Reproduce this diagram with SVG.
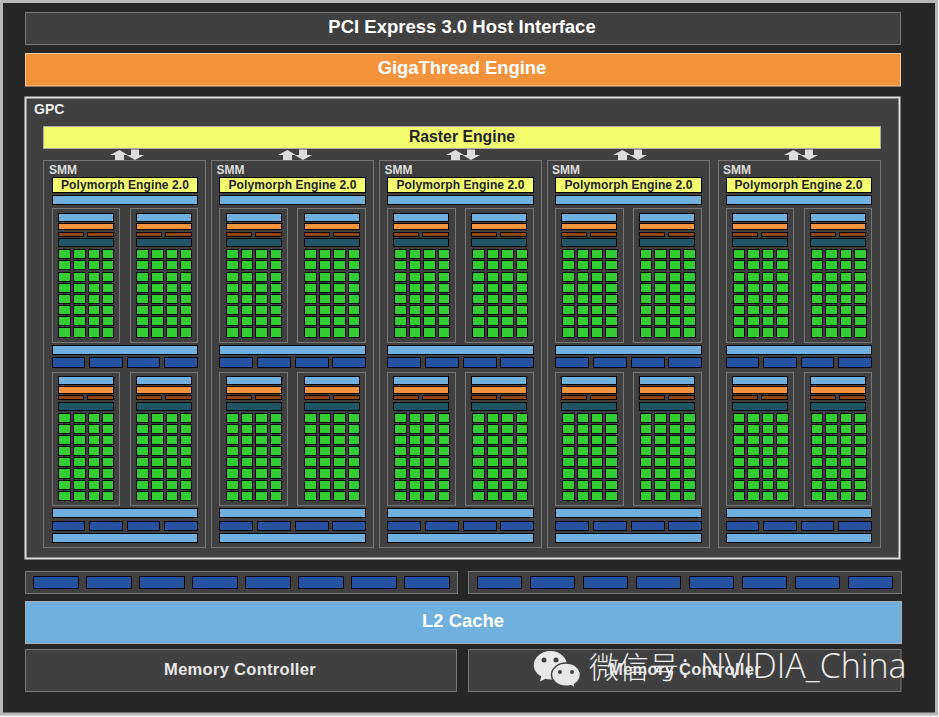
<svg xmlns="http://www.w3.org/2000/svg" xmlns:xlink="http://www.w3.org/1999/xlink" width="939" height="717" viewBox="0 0 939 717">
<style>
text{font-family:"Liberation Sans",Arial,sans-serif;font-weight:700}
.box{fill:#404040;stroke:#777;stroke-width:1}
.bl{fill:#6fb0de;stroke:#000;stroke-width:1}
.or{fill:#f5923c;stroke:#000;stroke-width:1}
.br{fill:#8f4610;stroke:#000;stroke-width:1}
.te{fill:#1f5565;stroke:#000;stroke-width:1}
.gr{fill:#33cc33;stroke:#000;stroke-width:1}
.db{fill:#2553a2;stroke:#000;stroke-width:1}
.ye{fill:#f4ff70;stroke:#000;stroke-width:1}
.smm{font-size:12px;fill:#ddd}
.pe{font-size:12px;fill:#222;text-anchor:middle;letter-spacing:.1px}
.big{fill:#fff;text-anchor:middle}
.mc{font-size:16.500px;fill:#e8e8e8;text-anchor:middle;letter-spacing:.3px}
.arrow{fill:#ddd}
</style>
<defs>
<g id="colT12"><rect class="gr" x=".5" y="249.5" width="12" height="9"/><rect class="gr" x=".5" y="260.5" width="12" height="9"/><rect class="gr" x=".5" y="272.5" width="12" height="9"/><rect class="gr" x=".5" y="283.5" width="12" height="9"/><rect class="gr" x=".5" y="294.5" width="12" height="9"/><rect class="gr" x=".5" y="305.5" width="12" height="9"/><rect class="gr" x=".5" y="316.5" width="12" height="9"/><rect class="gr" x=".5" y="327.5" width="12" height="10"/></g>
<g id="colT11"><rect class="gr" x=".5" y="249.5" width="11" height="9"/><rect class="gr" x=".5" y="260.5" width="11" height="9"/><rect class="gr" x=".5" y="272.5" width="11" height="9"/><rect class="gr" x=".5" y="283.5" width="11" height="9"/><rect class="gr" x=".5" y="294.5" width="11" height="9"/><rect class="gr" x=".5" y="305.5" width="11" height="9"/><rect class="gr" x=".5" y="316.5" width="11" height="9"/><rect class="gr" x=".5" y="327.5" width="11" height="10"/></g>
<g id="colL12"><rect class="gr" x=".5" y="413.5" width="12" height="9"/><rect class="gr" x=".5" y="424.5" width="12" height="9"/><rect class="gr" x=".5" y="435.5" width="12" height="9"/><rect class="gr" x=".5" y="446.5" width="12" height="9"/><rect class="gr" x=".5" y="457.5" width="12" height="9"/><rect class="gr" x=".5" y="468.5" width="12" height="10"/><rect class="gr" x=".5" y="480.5" width="12" height="9"/><rect class="gr" x=".5" y="491.5" width="12" height="9"/></g>
<g id="colL11"><rect class="gr" x=".5" y="413.5" width="11" height="9"/><rect class="gr" x=".5" y="424.5" width="11" height="9"/><rect class="gr" x=".5" y="435.5" width="11" height="9"/><rect class="gr" x=".5" y="446.5" width="11" height="9"/><rect class="gr" x=".5" y="457.5" width="11" height="9"/><rect class="gr" x=".5" y="468.5" width="11" height="10"/><rect class="gr" x=".5" y="480.5" width="11" height="9"/><rect class="gr" x=".5" y="491.5" width="11" height="9"/></g>
<g id="AT"><use href="#colT12"/><use href="#colT12" x="15"/><use href="#colT11" x="30"/><use href="#colT11" x="44"/></g>
<g id="BT"><use href="#colT12"/><use href="#colT11" x="15"/><use href="#colT12" x="29"/><use href="#colT11" x="44"/></g>
<g id="CT"><use href="#colT11"/><use href="#colT12" x="14"/><use href="#colT11" x="29"/><use href="#colT12" x="43"/></g>
<g id="DT"><use href="#colT12"/><use href="#colT11" x="15"/><use href="#colT11" x="29"/><use href="#colT12" x="43"/></g>
<g id="AL"><use href="#colL12"/><use href="#colL12" x="15"/><use href="#colL11" x="30"/><use href="#colL11" x="44"/></g>
<g id="BL"><use href="#colL12"/><use href="#colL11" x="15"/><use href="#colL12" x="29"/><use href="#colL11" x="44"/></g>
<g id="CL"><use href="#colL11"/><use href="#colL12" x="14"/><use href="#colL11" x="29"/><use href="#colL12" x="43"/></g>
<g id="DL"><use href="#colL12"/><use href="#colL11" x="15"/><use href="#colL11" x="29"/><use href="#colL12" x="43"/></g>
<g id="barsT"><rect class="bl" y="213.5" width="55" height="8"/><rect class="or" y="223.5" width="55" height="6"/><rect class="br" y="232.5" width="25" height="4"/><rect class="br" x="29" y="232.5" width="26" height="4"/><rect class="te" y="238.5" width="55" height="8"/></g>
<g id="barsL"><rect class="bl" y="376.5" width="55" height="8"/><rect class="or" y="386.5" width="55" height="7"/><rect class="br" y="395.5" width="25" height="4"/><rect class="br" x="29" y="395.5" width="26" height="4"/><rect class="te" y="402.5" width="55" height="8"/></g>
<g id="dkU1"><rect class="db" y="357.5" width="32" height="10"/><rect class="db" x="37" y="357.5" width="33" height="10"/><rect class="db" x="75" y="357.5" width="32" height="10"/><rect class="db" x="112" y="357.5" width="33" height="10"/></g>
<g id="dkL1"><rect class="db" y="521.5" width="32" height="9"/><rect class="db" x="37" y="521.5" width="33" height="9"/><rect class="db" x="75" y="521.5" width="32" height="9"/><rect class="db" x="112" y="521.5" width="33" height="9"/></g>
<g id="dkU"><rect class="db" y="357.5" width="33" height="10"/><rect class="db" x="38" y="357.5" width="33" height="10"/><rect class="db" x="76" y="357.5" width="33" height="10"/><rect class="db" x="113" y="357.5" width="33" height="10"/></g>
<g id="dkL"><rect class="db" y="521.5" width="33" height="9"/><rect class="db" x="38" y="521.5" width="33" height="9"/><rect class="db" x="76" y="521.5" width="33" height="9"/><rect class="db" x="113" y="521.5" width="33" height="9"/></g>
<g id="arrows"><path class="arrow" d="M110 155 119.5 150 128 155H124V160H115V155Z"/><path class="arrow" d="M131 149.500H139V155H144L135 160 126.500 155H131Z"/></g>
</defs>
<rect x="0" y="0" width="939" height="717" fill="#f2f2f2"/>
<rect x="1.500" y="1.500" width="935" height="712.500" fill="#262626" stroke="#b8b8b8" stroke-width="3"/>

<g id="pcie"><rect class="box" x="25.500" y="12.500" width="875" height="32"/><text class="big" x="462" y="33" font-size="18.500">PCI Express 3.0 Host Interface</text></g>
<g id="gigathread"><rect x="25.500" y="53.500" width="875" height="32.500" fill="#f5923c" stroke="#f6c7a0"/><text class="big" x="462" y="74" font-size="18.400">GigaThread Engine</text></g>
<g id="gpc"><rect x="25.500" y="97.500" width="874" height="461" fill="#404040" stroke="#ddd" stroke-width="2"/><text x="34" y="114" font-size="14" fill="#eee">GPC</text></g>
<g id="raster"><rect x="43.500" y="126.500" width="837" height="22" fill="#f4ff70" stroke="#aaa"/><text x="462" y="142" font-size="15.800" fill="#222" text-anchor="middle">Raster Engine</text></g>

<g id="connectors"><use href="#arrows"/><use href="#arrows" x="168"/><use href="#arrows" x="336"/><use href="#arrows" x="503"/><use href="#arrows" x="674"/></g>

<g id="smm1">
<rect class="box" x="43.500" y="160.500" width="162" height="387"/><text class="smm" x="49" y="174">SMM</text>
<rect class="ye" x="52.500" y="177.500" width="145" height="15"/><text class="pe" x="125" y="189">Polymorph Engine 2.0</text>
<rect class="bl" x="52.500" y="195.500" width="145" height="9"/>
<rect class="box" x="52.500" y="208.500" width="67" height="134"/><use href="#barsT" x="58.500"/><use href="#AT" x="58"/>
<rect class="box" x="130.500" y="208.500" width="67" height="134"/><use href="#barsT" x="136.500"/><use href="#AT" x="136"/>
<rect class="bl" x="52.500" y="345.500" width="145" height="9"/><use href="#dkU1" x="52.500"/>
<rect class="box" x="52.500" y="372.500" width="67" height="133"/><use href="#barsL" x="58.500"/><use href="#AL" x="58"/>
<rect class="box" x="130.500" y="372.500" width="67" height="133"/><use href="#barsL" x="136.500"/><use href="#AL" x="136"/>
<rect class="bl" x="52.500" y="508.500" width="145" height="9"/><use href="#dkL1" x="52.500"/><rect class="bl" x="52.500" y="533.500" width="145" height="9"/>
</g>
<g id="smm2">
<rect class="box" x="211.500" y="160.500" width="162" height="387"/><text class="smm" x="216.500" y="174">SMM</text>
<rect class="ye" x="219.500" y="177.500" width="146" height="15"/><text class="pe" x="292.500" y="189">Polymorph Engine 2.0</text>
<rect class="bl" x="219.500" y="195.500" width="146" height="9"/>
<rect class="box" x="219.500" y="208.500" width="68" height="134"/><use href="#barsT" x="226.500"/><use href="#BT" x="226"/>
<rect class="box" x="297.500" y="208.500" width="68" height="134"/><use href="#barsT" x="304.500"/><use href="#BT" x="304"/>
<rect class="bl" x="219.500" y="345.500" width="146" height="9"/><use href="#dkU" x="219.500"/>
<rect class="box" x="219.500" y="372.500" width="68" height="133"/><use href="#barsL" x="226.500"/><use href="#BL" x="226"/>
<rect class="box" x="297.500" y="372.500" width="68" height="133"/><use href="#barsL" x="304.500"/><use href="#BL" x="304"/>
<rect class="bl" x="219.500" y="508.500" width="146" height="9"/><use href="#dkL" x="219.500"/><rect class="bl" x="219.500" y="533.500" width="146" height="9"/>
</g>
<g id="smm3">
<rect class="box" x="379.500" y="160.500" width="162" height="387"/><text class="smm" x="384.500" y="174">SMM</text>
<rect class="ye" x="387.500" y="177.500" width="146" height="15"/><text class="pe" x="460.500" y="189">Polymorph Engine 2.0</text>
<rect class="bl" x="387.500" y="195.500" width="146" height="9"/>
<rect class="box" x="387.500" y="208.500" width="68" height="134"/><use href="#barsT" x="393.500"/><use href="#BT" x="394"/>
<rect class="box" x="465.500" y="208.500" width="68" height="134"/><use href="#barsT" x="471.500"/><use href="#BT" x="472"/>
<rect class="bl" x="387.500" y="345.500" width="146" height="9"/><use href="#dkU" x="387.500"/>
<rect class="box" x="387.500" y="372.500" width="68" height="133"/><use href="#barsL" x="393.500"/><use href="#BL" x="394"/>
<rect class="box" x="465.500" y="372.500" width="68" height="133"/><use href="#barsL" x="471.500"/><use href="#BL" x="472"/>
<rect class="bl" x="387.500" y="508.500" width="146" height="9"/><use href="#dkL" x="387.500"/><rect class="bl" x="387.500" y="533.500" width="146" height="9"/>
</g>
<g id="smm4">
<rect class="box" x="547.500" y="160.500" width="162" height="387"/><text class="smm" x="552" y="174">SMM</text>
<rect class="ye" x="555.500" y="177.500" width="146" height="15"/><text class="pe" x="628.500" y="189">Polymorph Engine 2.0</text>
<rect class="bl" x="555.500" y="195.500" width="146" height="9"/>
<rect class="box" x="555.500" y="208.500" width="68" height="134"/><use href="#barsT" x="561.500"/><use href="#DT" x="562"/>
<rect class="box" x="633.500" y="208.500" width="68" height="134"/><use href="#barsT" x="639.500"/><use href="#CT" x="640"/>
<rect class="bl" x="555.500" y="345.500" width="146" height="9"/><use href="#dkU" x="555.500"/>
<rect class="box" x="555.500" y="372.500" width="68" height="133"/><use href="#barsL" x="561.500"/><use href="#DL" x="562"/>
<rect class="box" x="633.500" y="372.500" width="68" height="133"/><use href="#barsL" x="639.500"/><use href="#CL" x="640"/>
<rect class="bl" x="555.500" y="508.500" width="146" height="9"/><use href="#dkL" x="555.500"/><rect class="bl" x="555.500" y="533.500" width="146" height="9"/>
</g>
<g id="smm5">
<rect class="box" x="718.500" y="160.500" width="162" height="387"/><text class="smm" x="723" y="174">SMM</text>
<rect class="ye" x="726.500" y="177.500" width="145" height="15"/><text class="pe" x="798.500" y="189">Polymorph Engine 2.0</text>
<rect class="bl" x="726.500" y="195.500" width="145" height="9"/>
<rect class="box" x="726.500" y="208.500" width="67" height="134"/><use href="#barsT" x="732.500"/><use href="#CT" x="733"/>
<rect class="box" x="804.500" y="208.500" width="67" height="134"/><use href="#barsT" x="810.500"/><use href="#CT" x="811"/>
<rect class="bl" x="726.500" y="345.500" width="145" height="9"/><use href="#dkU1" x="726.500"/>
<rect class="box" x="726.500" y="372.500" width="67" height="133"/><use href="#barsL" x="732.500"/><use href="#CL" x="733"/>
<rect class="box" x="804.500" y="372.500" width="67" height="133"/><use href="#barsL" x="810.500"/><use href="#CL" x="811"/>
<rect class="bl" x="726.500" y="508.500" width="145" height="9"/><use href="#dkL1" x="726.500"/><rect class="bl" x="726.500" y="533.500" width="145" height="9"/>
</g>

<g id="ports-left"><rect class="box" x="25.500" y="571.500" width="432" height="22"/>
<rect class="db" x="33.500" y="576.500" width="45" height="12"/><rect class="db" x="86.500" y="576.500" width="45" height="12"/><rect class="db" x="139.500" y="576.500" width="45" height="12"/><rect class="db" x="192.500" y="576.500" width="45" height="12"/><rect class="db" x="245.500" y="576.500" width="45" height="12"/><rect class="db" x="298.500" y="576.500" width="45" height="12"/><rect class="db" x="351.500" y="576.500" width="45" height="12"/><rect class="db" x="404.500" y="576.500" width="45" height="12"/></g>
<g id="ports-right"><rect class="box" x="468.500" y="571.500" width="433" height="22"/>
<rect class="db" x="477.500" y="576.500" width="44" height="12"/><rect class="db" x="530.500" y="576.500" width="44" height="12"/><rect class="db" x="583.500" y="576.500" width="44" height="12"/><rect class="db" x="636.500" y="576.500" width="44" height="12"/><rect class="db" x="689.500" y="576.500" width="44" height="12"/><rect class="db" x="742.500" y="576.500" width="44" height="12"/><rect class="db" x="795.500" y="576.500" width="44" height="12"/><rect class="db" x="848.500" y="576.500" width="44" height="12"/></g>
<g id="l2"><rect x="25.500" y="601.500" width="876" height="42" fill="#6fb0de" stroke="#aaa"/><text class="big" x="463" y="627" font-size="18.400">L2 Cache</text></g>
<g id="mc-left"><rect class="box" x="25.500" y="649.500" width="431" height="42"/><text class="mc" x="240" y="675">Memory Controller</text></g>
<g id="mc-right"><rect class="box" x="468.500" y="649.500" width="432.500" height="42"/><text class="mc" x="685" y="675">Memory Controller</text></g>

<g id="watermark">
<path d="M550.500 651c9 0 16.500 6.300 16.500 14.200 0 7.800-7.500 14.200-16.500 14.200-1.800 0-3.500-.3-5-.7l-5.500 2.800 1.200-5.200c-4.500-2.600-7.400-6.400-7.400-11.100 0-7.900 7.500-14.200 16.700-14.200Z" fill="#e8e8e8"/>
<path d="M566 663c8 0 14.500 5.300 14.500 11.800 0 3.900-2.400 7.300-6 9.500l1.200 3.900-5-2.500c-1.500.4-3 .6-4.700.6-8 0-14.500-5.200-14.500-11.500 0-6.500 6.500-11.800 14.500-11.800Z" fill="#e8e8e8" stroke="#404040" stroke-width="1.500"/>
<circle cx="544" cy="660" r="2.500" fill="#404040"/><circle cx="556" cy="660" r="2.500" fill="#404040"/><circle cx="560" cy="672" r="2" fill="#404040"/><circle cx="572" cy="672" r="2" fill="#404040"/>
<text y="678" font-size="34" fill="#eee" style="font-family:'Open Sans','Noto Sans CJK SC',sans-serif;font-weight:300"><tspan x="589" style="font-family:'Noto Sans CJK SC',sans-serif;font-size:30px">微信号</tspan><tspan x="681">:</tspan><tspan x="700">NVIDIA_China</tspan></text>
</g>
</svg>
